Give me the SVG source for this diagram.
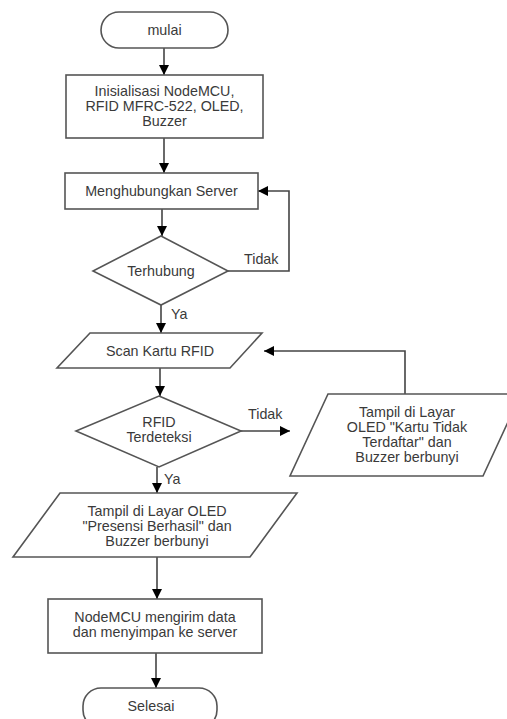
<svg xmlns="http://www.w3.org/2000/svg" width="507" height="719" viewBox="0 0 507 719">
<style>
.s{fill:#fff;stroke:#555;stroke-width:1.6}
.t{font-family:"Liberation Sans",Arial,sans-serif;font-size:14.3px;fill:#3a3a3a;text-anchor:middle}
.l{font-family:"Liberation Sans",Arial,sans-serif;font-size:14.3px;fill:#3a3a3a}
.c{fill:none;stroke:#444;stroke-width:1.6}
</style>
<defs>
<marker id="a" viewBox="0 0 10 10" refX="10" refY="5" markerWidth="10" markerHeight="10" markerUnits="userSpaceOnUse" orient="auto">
<path d="M0,0 L10,5 L0,10 Z" fill="#000"/>
</marker>
</defs>
<rect width="507" height="719" fill="#fff"/>
<g id="connectors">
<path class="c" d="M164,48 V75" marker-end="url(#a)"/>
<path class="c" d="M164,138 V173" marker-end="url(#a)"/>
<path class="c" d="M162,209 V236" marker-end="url(#a)"/>
<path class="c" d="M228,271 H289 V191 H258" marker-end="url(#a)"/>
<path class="c" d="M161,305 V333" marker-end="url(#a)"/>
<path class="c" d="M160,368 V396" marker-end="url(#a)"/>
<path class="c" d="M241,431 H290" marker-end="url(#a)"/>
<path class="c" d="M405,394 V351 H264" marker-end="url(#a)"/>
<path class="c" d="M157,467 V493" marker-end="url(#a)"/>
<path class="c" d="M157,557 V599" marker-end="url(#a)"/>
<path class="c" d="M156,653 V688" marker-end="url(#a)"/>
<text class="l" x="244" y="264">Tidak</text>
<text class="l" x="171" y="319">Ya</text>
<text class="l" x="248" y="419">Tidak</text>
<text class="l" x="164" y="484">Ya</text>
</g>
<g id="start">
<rect class="s" x="101" y="12" width="127" height="36" rx="18"/>
<text class="t" x="164.5" y="35">mulai</text>
</g>
<g id="init">
<rect class="s" x="66" y="75" width="197" height="63"/>
<text class="t" x="164.5" y="96">Inisialisasi NodeMCU,</text>
<text class="t" x="164.5" y="111">RFID MFRC-522, OLED,</text>
<text class="t" x="164.5" y="126">Buzzer</text>
</g>
<g id="connect">
<rect class="s" x="65" y="173" width="193" height="36"/>
<text class="t" x="161.5" y="196">Menghubungkan Server</text>
</g>
<g id="terhubung">
<polygon class="s" points="161,236 228,271 161,305 93,271"/>
<text class="t" x="161" y="276">Terhubung</text>
</g>
<g id="scan">
<polygon class="s" points="90,333 262,333 230,368 57,368"/>
<text class="t" x="160" y="356">Scan Kartu RFID</text>
</g>
<g id="rfid">
<polygon class="s" points="159,396 241,431 159,467 76,431"/>
<text class="t" x="159" y="427">RFID</text>
<text class="t" x="159" y="442">Terdeteksi</text>
</g>
<g id="gagal">
<polygon class="s" points="328,394 521,394 483,476 290,476"/>
<text class="t" x="407" y="417">Tampil di Layar</text>
<text class="t" x="407" y="432">OLED "Kartu Tidak</text>
<text class="t" x="407" y="447">Terdaftar" dan</text>
<text class="t" x="407" y="462">Buzzer berbunyi</text>
</g>
<g id="berhasil">
<polygon class="s" points="60,493 297,493 250,557 13,557"/>
<text class="t" x="157" y="516">Tampil di Layar OLED</text>
<text class="t" x="157" y="531">"Presensi Berhasil" dan</text>
<text class="t" x="157" y="546">Buzzer berbunyi</text>
</g>
<g id="kirim">
<rect class="s" x="48" y="599" width="214" height="54"/>
<text class="t" x="155" y="622">NodeMCU mengirim data</text>
<text class="t" x="155" y="637">dan menyimpan ke server</text>
</g>
<g id="selesai">
<rect class="s" x="83" y="688" width="134" height="40" rx="18"/>
<text class="t" x="151" y="711">Selesai</text>
</g>
</svg>
